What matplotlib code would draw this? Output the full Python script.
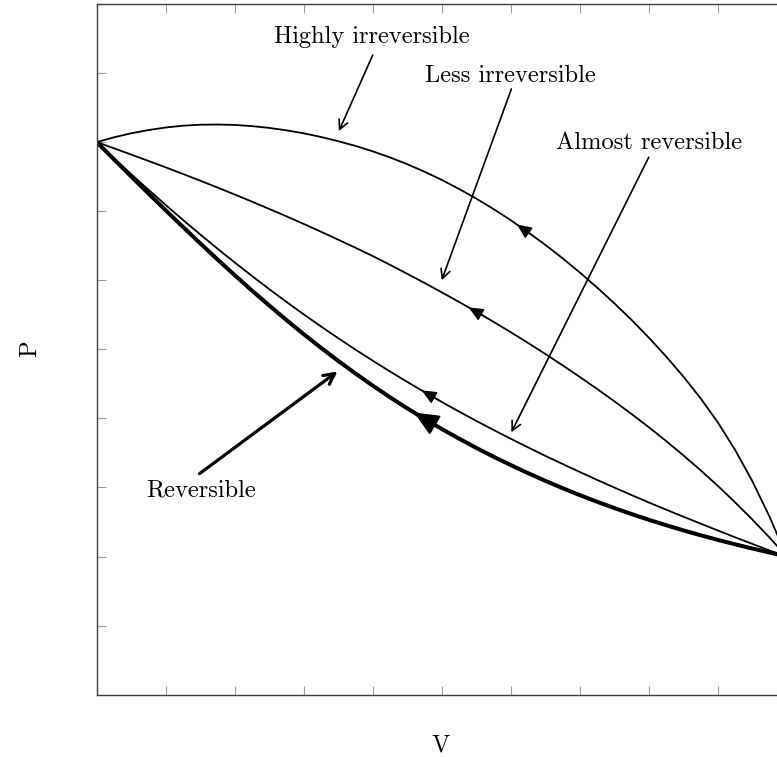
"""P-V sketch: reversible vs. irreversible compression paths between two states."""

import numpy as np
import matplotlib

matplotlib.use("Agg")
import matplotlib.pyplot as plt

plt.rcParams["font.family"] = ["cmr10", "DejaVu Serif"]
plt.rcParams["axes.formatter.use_mathtext"] = True

# volume samples shared by all paths (axis units)
volume = [0.00, 0.25, 0.50, 0.75, 1.00, 1.25, 1.50, 1.75, 2.00, 2.25,
          2.50, 2.75, 3.00, 3.25, 3.50, 3.75, 4.00, 4.25, 4.50, 4.75,
          5.00, 5.25, 5.50, 5.75, 6.00, 6.25, 6.50, 6.75, 7.00, 7.25,
          7.50, 7.75, 8.00, 8.25, 8.50, 8.75, 9.00, 9.25, 9.50, 9.75, 10.00]

# pressure
p_highly = [8.000, 8.070, 8.128, 8.175, 8.212, 8.238, 8.252, 8.255, 8.249, 8.232,
            8.206, 8.171, 8.128, 8.075, 8.014, 7.945, 7.867, 7.779, 7.681, 7.572,
            7.454, 7.323, 7.183, 7.032, 6.870, 6.697, 6.514, 6.320, 6.114, 5.897,
            5.668, 5.428, 5.171, 4.900, 4.609, 4.294, 3.945, 3.548, 3.096, 2.580, 2.000]
p_less = [8.000, 7.911, 7.820, 7.728, 7.635, 7.539, 7.442, 7.343, 7.242, 7.139,
          7.033, 6.926, 6.816, 6.703, 6.588, 6.471, 6.351, 6.224, 6.094, 5.962,
          5.826, 5.687, 5.545, 5.399, 5.249, 5.094, 4.934, 4.770, 4.601, 4.428,
          4.250, 4.065, 3.874, 3.675, 3.467, 3.251, 3.025, 2.787, 2.538, 2.276, 2.000]
p_almost = [8.000, 7.766, 7.536, 7.311, 7.090, 6.874, 6.664, 6.458, 6.258, 6.063,
            5.872, 5.687, 5.507, 5.332, 5.162, 4.997, 4.836, 4.680, 4.529, 4.382,
            4.239, 4.100, 3.965, 3.834, 3.706, 3.581, 3.459, 3.341, 3.225, 3.111,
            3.000, 2.891, 2.784, 2.680, 2.578, 2.478, 2.378, 2.280, 2.184, 2.089, 2.000]
p_rev = [8.000, 7.751, 7.503, 7.257, 7.013, 6.772, 6.535, 6.302, 6.074, 5.851,
         5.635, 5.424, 5.220, 5.023, 4.833, 4.651, 4.475, 4.307, 4.146, 3.994,
         3.848, 3.708, 3.574, 3.446, 3.325, 3.208, 3.097, 2.991, 2.890, 2.794,
         2.703, 2.616, 2.533, 2.455, 2.380, 2.309, 2.242, 2.178, 2.117, 2.059, 2.000]

# where the direction arrow sits on each path (volume)
arrow_at = {"highly": 6.09, "less": 5.39, "almost": 4.71, "rev": 4.60}

# labels: text, text position, arrow start, arrow tip
labels = [
    ("Highly irreversible", (3.99, 9.52), (4.00, 9.26), (3.51, 8.16)),
    ("Less irreversible", (5.99, 8.96), (6.01, 8.77), (5.00, 6.00)),
    ("Almost reversible", (8.00, 7.99), (8.00, 7.78), (6.01, 3.80)),
    ("Reversible", (1.51, 2.96), (1.49, 3.20), (3.49, 4.68)),
]


def direction_arrow(ax, v, p, v_tip, lw, scale):
    v = np.asarray(v)
    p = np.asarray(p)
    tip = (v_tip, np.interp(v_tip, v, p))
    tail = (v_tip + 0.25, np.interp(v_tip + 0.25, v, p))
    ax.annotate(
        "", xy=tip, xytext=tail,
        arrowprops=dict(arrowstyle="-|>,head_length=0.9,head_width=0.4",
                        lw=lw, color="black", mutation_scale=scale,
                        shrinkA=0, shrinkB=0),
    )


fig = plt.figure(figsize=(7.77, 7.57), dpi=100)
ax = fig.add_axes([96.7 / 777, 62.3 / 757, 690 / 777, 690.7 / 757])
ax.set_xlim(0, 10)
ax.set_ylim(0, 10)
ax.set_xticks(range(11))
ax.set_yticks(range(11))
ax.set_xticklabels([])
ax.set_yticklabels([])
ax.tick_params(direction="in", length=6.5, width=0.8, color="#9a9a9a",
               top=True, right=True)
for side in ax.spines.values():
    side.set_color("#404040")
    side.set_linewidth(1.0)

for p in (p_highly, p_less, p_almost):
    ax.plot(volume, p, color="black", lw=1.3, solid_capstyle="round",
            solid_joinstyle="round")
ax.plot(volume, p_rev, color="black", lw=2.9, solid_capstyle="round",
        solid_joinstyle="round")

direction_arrow(ax, volume, p_highly, arrow_at["highly"], 1.0, 10)
direction_arrow(ax, volume, p_less, arrow_at["less"], 1.0, 10)
direction_arrow(ax, volume, p_almost, arrow_at["almost"], 1.0, 10)
direction_arrow(ax, volume, p_rev, arrow_at["rev"], 1.5, 17)

for text, pos, start, tip in labels:
    ax.text(pos[0], pos[1], text, ha="center", va="center", fontsize=17.6)
    thick = text == "Reversible"
    ax.annotate(
        "", xy=tip, xytext=start,
        arrowprops=dict(arrowstyle="->,head_length=0.55,head_width=0.28",
                        lw=2.3 if thick else 1.2, color="black",
                        mutation_scale=14 if thick else 12,
                        shrinkA=0, shrinkB=0),
    )

ax.text(0.499, -0.073, "V", transform=ax.transAxes, ha="center", va="center",
        fontsize=17.6)
ax.text(-0.097, 0.501, "P", transform=ax.transAxes, ha="center", va="center",
        fontsize=17.6, rotation=90)

fig.savefig("out.png", dpi=100)
plt.close(fig)
